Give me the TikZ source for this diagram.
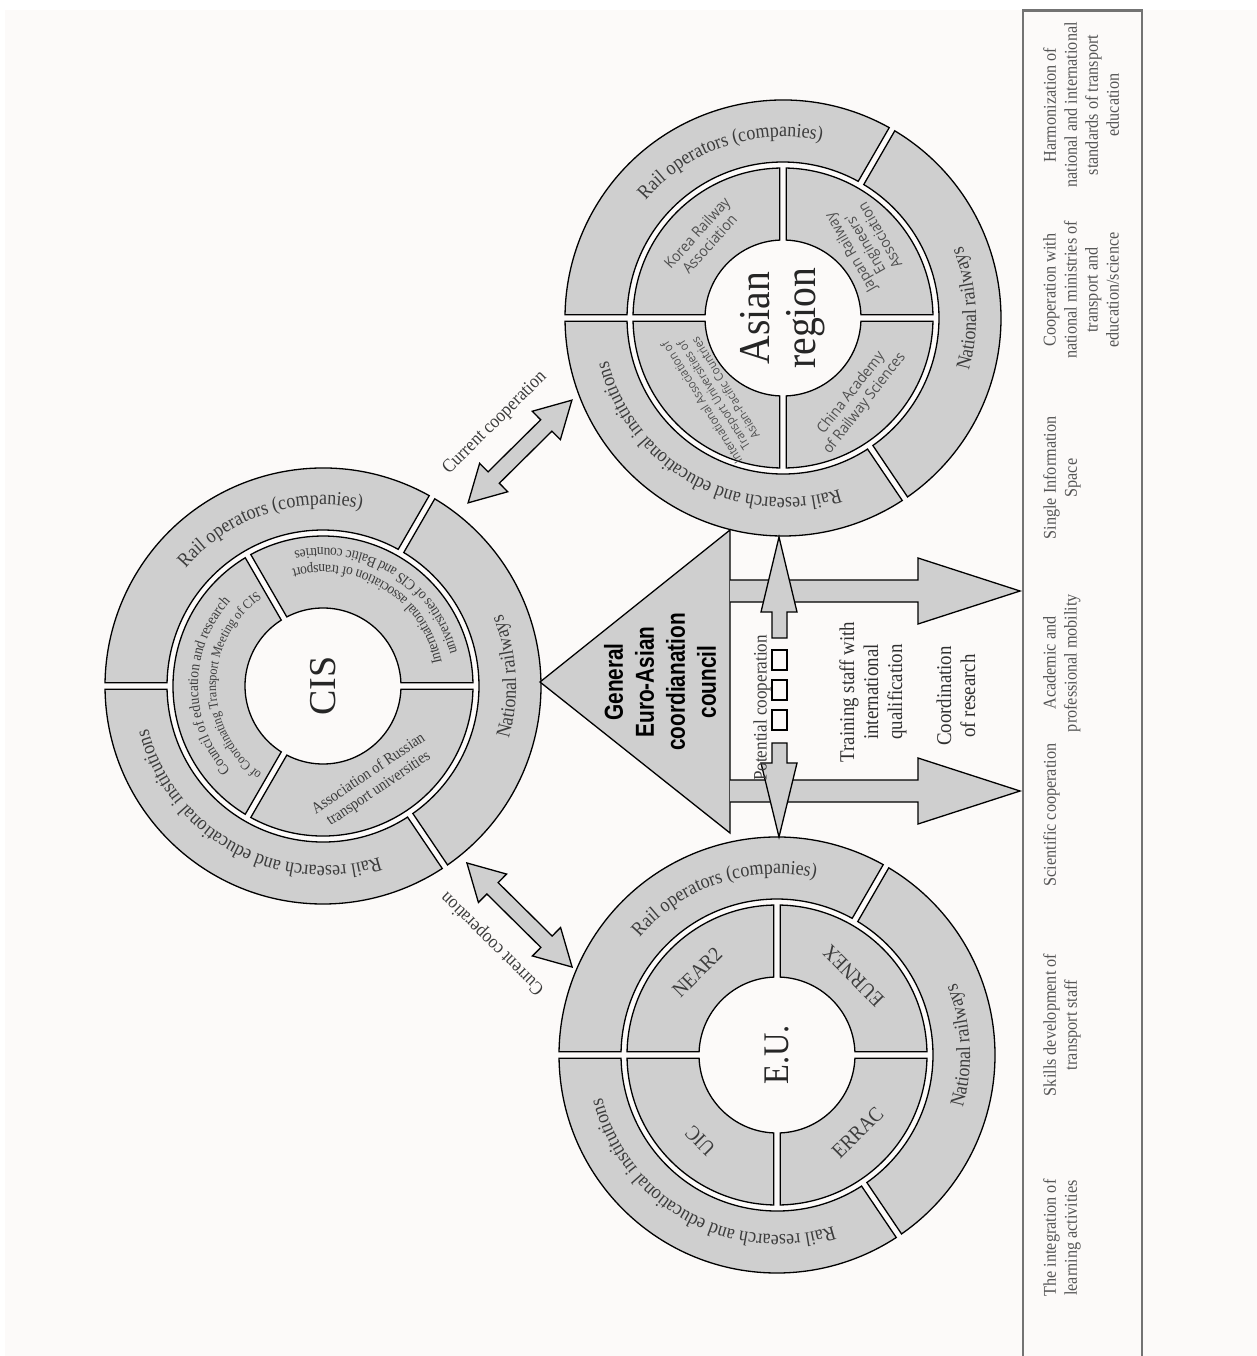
\documentclass[tikz,border=0pt]{standalone}
\usepackage{fontspec}
\setmainfont{Liberation Serif}
\newfontfamily\fSerif[FakeStretch=0.9]{Liberation Serif}
\newfontfamily\fSerifN{Liberation Serif}
\newfontfamily\fSansB[FakeStretch=0.8]{Liberation Sans}
\newfontfamily\fOpen[FakeStretch=0.92]{Open Sans}
\usetikzlibrary{calc,decorations.text}
\definecolor{segfill}{RGB}{207,207,207}
\definecolor{bgoff}{RGB}{252,250,249}
\definecolor{ringtxt}{RGB}{60,60,60}
\definecolor{boxtxt}{RGB}{85,85,85}
\definecolor{boxline}{RGB}{115,115,115}
\def\segGap{3.2}
\tikzset{
  ringseg/.style={fill=segfill,draw=black,line width=1.3pt},
  shp/.style={fill=segfill,draw=black,line width=1.3pt,line join=miter},
  boxlbl/.style={rotate=90,anchor=north,align=center,inner sep=0pt,text=boxtxt,font=\fSerif\fontsize{18}{21}\selectfont},
  midlbl/.style={rotate=90,align=center,inner sep=0pt,text=ringtxt!80!black,font=\fSerif\fontsize{21}{24}\selectfont},
  innersans/.style={align=center,inner sep=0pt,text=ringtxt!90,font=\fOpen\fontsize{15}{17}\selectfont},
  innerserif/.style={align=center,inner sep=0pt,text=ringtxt,font=\fSerif\fontsize{21}{24}\selectfont},
  coop/.style={inner sep=0pt,text=ringtxt,font=\fSerif\fontsize{19}{22}\selectfont},
}
\newcommand\ringfmt{\fSerif\fontsize{20}{22}\selectfont\color{ringtxt}}
\newcommand\cisfmt{\fSerif\fontsize{15}{17}\selectfont\color{ringtxt}}
\newcommand\cisfmtb{\fSerif\fontsize{13.5}{16}\selectfont\color{ringtxt}}
\newcommand\annsec[5]{%
  \pgfmathsetmacro\sgR{asin(\segGap/#3)}%
  \pgfmathsetmacro\sgr{asin(\segGap/#2)}%
  \filldraw[ringseg,shift={(#1)}] (#4+\sgr:#2pt) -- (#4+\sgR:#3pt)
    arc[start angle=#4+\sgR,end angle=#5-\sgR,radius=#3pt] -- (#5-\sgr:#2pt)
    arc[start angle=#5-\sgr,end angle=#4+\sgr,radius=#2pt] -- cycle;}
\newcommand\outerring[1]{%
  \annsec{#1}{156}{218}{60}{180}%
  \annsec{#1}{156}{218}{180}{304}%
  \annsec{#1}{156}{218}{-56}{60}}
\newcommand\innerfour[1]{%
  \annsec{#1}{78}{150}{0}{90}%
  \annsec{#1}{78}{150}{90}{180}%
  \annsec{#1}{78}{150}{180}{270}%
  \annsec{#1}{78}{150}{270}{360}}
\newcommand\innerthree[1]{%
  \annsec{#1}{78}{150}{0}{120}%
  \annsec{#1}{78}{150}{120}{240}%
  \annsec{#1}{78}{150}{240}{360}}
\newcommand\cwtext[5]{\path[decorate,decoration={text along path,text align=center,text={|#4|#5}}]
  ([shift={(#3+85:#2pt)}]#1) arc[start angle=#3+85,end angle=#3-85,radius=#2pt];}
\newcommand\ccwtext[5]{\path[decorate,decoration={text along path,text align=center,text={|#4|#5}}]
  ([shift={(#3-85:#2pt)}]#1) arc[start angle=#3-85,end angle=#3+85,radius=#2pt];}
\newcommand\dblarrow[3]{%
  \filldraw[shp,shift={(#1)},rotate=#2] (-#3,0) -- (-#3+36,20) -- (-#3+36,8) -- (#3-36,8)
    -- (#3-36,20) -- (#3,0) -- (#3-36,-20) -- (#3-36,-8) -- (-#3+36,-8) -- (-#3+36,-20) -- cycle;}
\begin{document}
\begin{tikzpicture}[x=1pt,y=1pt]
\useasboundingbox (0,0) rectangle (1257,-1356);
\fill[white] (0,0) rectangle (1257,-1356);
\fill[bgoff] (5,-10) rectangle (1257,-1356);

\coordinate (asia) at (783,-318);
\coordinate (cis) at (323,-686);
\coordinate (eu) at (777,-1055);

% rings
\outerring{asia}\innerfour{asia}
\outerring{cis}\innerthree{cis}
\outerring{eu}\innerfour{eu}

% right box
\draw[boxline,line width=2.5pt] (1023,-1356) -- (1023,-10.5) -- (1142,-10.5) -- (1142,-1356);

% triangle
\coordinate (tA) at (540,-682);
\coordinate (tB) at (730,-530);
\coordinate (tC) at (730,-833);
\filldraw[shp] (tA) -- (tB) -- (tC) -- cycle;
\node[rotate=90,align=center,inner sep=0pt,font=\fSansB\bfseries\fontsize{26}{31}\selectfont] (council) at (660,-682) {General\\Euro-Asian\\coordianation\\council};

% horizontal arrows
\filldraw[shp] (730,-580) -- (918,-580) -- (918,-558) -- (1020,-591) -- (918,-624) -- (918,-602) -- (730,-602);
\filldraw[shp] (730,-780) -- (918,-780) -- (918,-758) -- (1020,-791) -- (918,-824) -- (918,-802) -- (730,-802);

% vertical potential cooperation arrow
\filldraw[shp] (779,-537) -- (797,-612) -- (787,-612) -- (787,-638) -- (772,-638) -- (772,-612) -- (761,-612) -- cycle;
\draw[line width=1.3pt,fill=bgoff] (772,-650) rectangle (787,-670);
\draw[line width=1.3pt,fill=bgoff] (772,-680) rectangle (787,-700);
\draw[line width=1.3pt,fill=bgoff] (772,-710) rectangle (787,-730);
\filldraw[shp] (772,-743) -- (787,-743) -- (787,-763) -- (797,-763) -- (779,-837) -- (761,-763) -- (772,-763) -- cycle;

% current cooperation arrows
\dblarrow{520,-451.5}{44.7}{73}
\dblarrow{519.5,-915}{-44.7}{74}
\node[coop,rotate=44.5] (cc1) at (495,-423) {Current cooperation};
\node[coop,rotate=135.5] (cc2) at (493,-943) {Current cooperation};

% middle labels
\node[rotate=90,inner sep=0pt,text=ringtxt,font=\fSerif\fontsize{19}{22}\selectfont] (pot) at (762,-708) {Potential cooperation};
\node[midlbl] (train) at (873,-692) {Training staff with\\international\\qualification};
\node[midlbl] (coord) at (956,-696) {Coordination\\of research};

% outer ring texts
\foreach \c in {asia,cis,eu}{
  \cwtext{\c}{181}{108.5}{\ringfmt}{Rail operators (companies)}
  \cwtext{\c}{180}{-119}{\ringfmt}{Rail research and educational institutions}
  \ccwtext{\c}{193}{3}{\ringfmt}{National railways}
}

% centres
\node[rotate=90,inner sep=0pt,text=black!85,font=\fSerifN\fontsize{38}{40}\selectfont] (cisl) at (cis) {CIS};
\node[rotate=90,inner sep=0pt,text=black!85,font=\fSerif\fontsize{36}{40}\selectfont] (eul) at (eu) {E.U.};
\node[rotate=90,align=center,inner sep=0pt,text=black!85,font=\fSerif\fontsize{44}{46}\selectfont] (asl) at (asia) {Asian\\region};

% Asian inner
\node[innersans,rotate=48] (kor) at ([shift={(135:113pt)}]asia) {Korea Railway\\Association};
\node[innersans,rotate=120] (jap) at ([shift={(42:110pt)}]asia) {Japan Railway\\Engineers'\\Association};
\node[innersans,rotate=122,font=\fOpen\fontsize{12}{14}\selectfont] (iat) at ([shift={(228:104pt)}]asia) {International Association of\\Transport Universities of\\Asian-Pacific Countries};
\node[innersans,rotate=52] (chi) at ([shift={(-47:110pt)}]asia) {China Academy\\of Railway Sciences};

% EU inner
\node[innerserif,rotate=45] (near) at ([shift={(134:115pt)}]eu) {NEAR2};
\node[innerserif,rotate=135] (eurn) at ([shift={(46:110pt)}]eu) {EURNEX};
\node[innerserif,rotate=135] (uic) at ([shift={(228:115pt)}]eu) {UIC};
\node[innerserif,rotate=45] (errac) at ([shift={(-44:112pt)}]eu) {ERRAC};

% CIS inner
\ccwtext{cis}{121}{58}{\cisfmt}{International association of transport}
\ccwtext{cis}{138}{58}{\cisfmt}{universities of CIS and Baltic countries}
\cwtext{cis}{125}{180}{\cisfmt}{Council of education and research}
\cwtext{cis}{107}{180}{\cisfmtb}{of Coordinating Transport Meeting of CIS}
\node[innerserif,rotate=34,font=\fSerif\fontsize{16}{18}\selectfont] (aru) at ([shift={(-62:108pt)}]cis) {Association of Russian\\transport universities};

% right box labels
\node[boxlbl] (b1) at (1043,-105) {Harmonization of\\national and international\\standards of transport\\education};
\node[boxlbl] (b2) at (1043,-290) {Cooperation with\\national ministries of\\transport and\\education/science};
\node[boxlbl] (b3) at (1043,-478) {Single Information\\Space};
\node[boxlbl] (b4) at (1043,-663) {Academic and\\professional mobility};
\node[boxlbl] (b5) at (1043,-815) {Scientific cooperation};
\node[boxlbl] (b6) at (1043,-1025) {Skills development of\\transport staff};
\node[boxlbl] (b7) at (1043,-1238) {The integration of\\learning activities};
\end{tikzpicture}
\end{document}
